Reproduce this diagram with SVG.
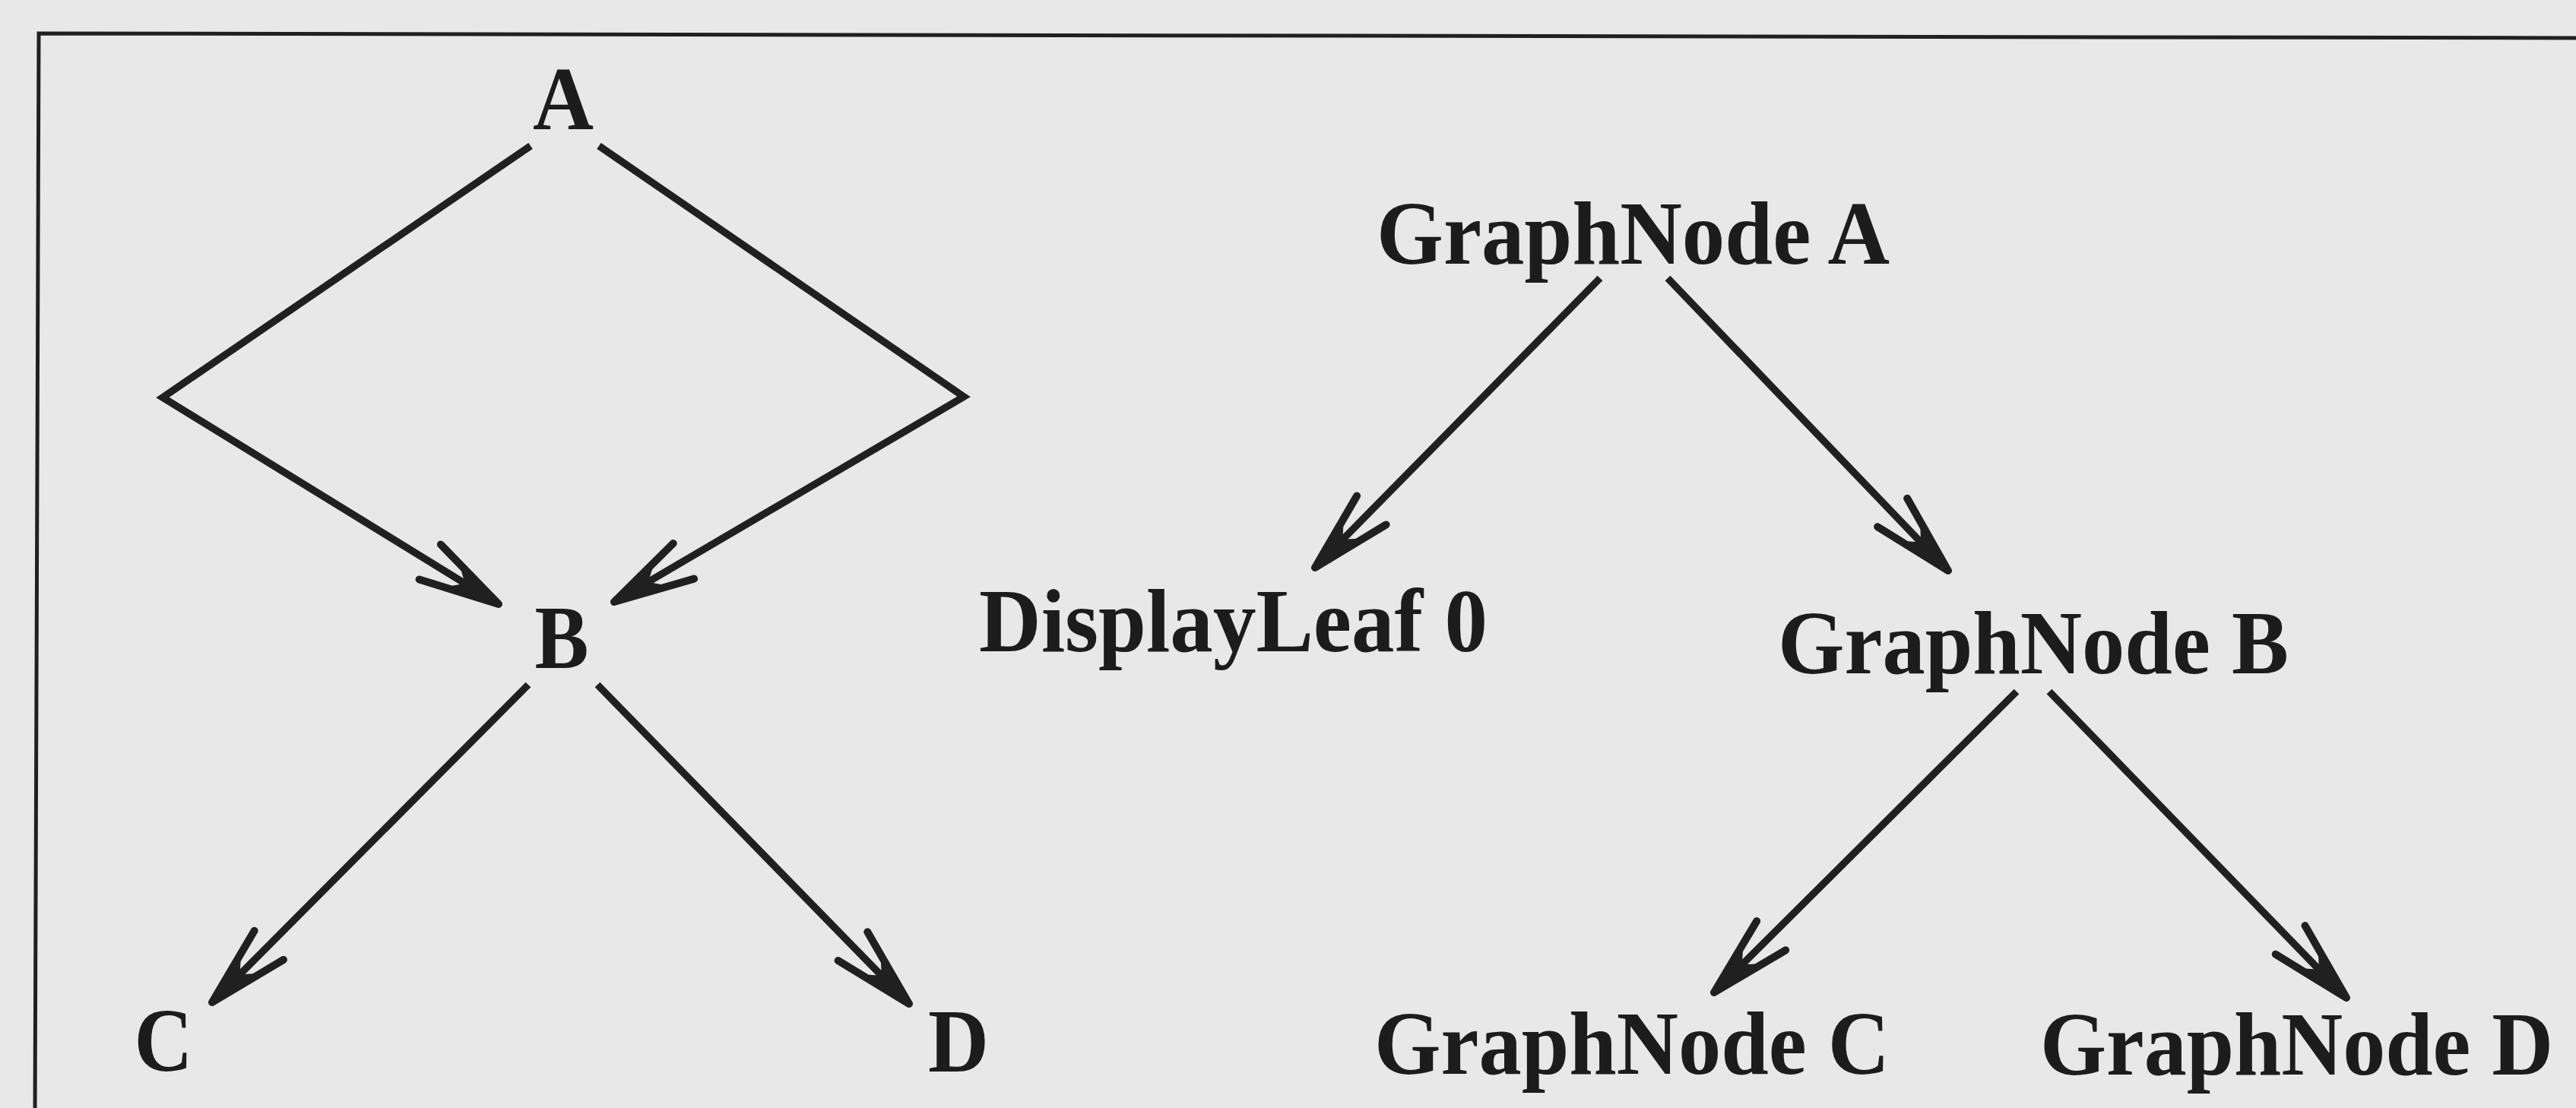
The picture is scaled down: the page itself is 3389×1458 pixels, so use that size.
<svg xmlns="http://www.w3.org/2000/svg" width="3389" height="1458" viewBox="0 0 3389 1458">
<style>
  .lbl { font-family: "Liberation Serif", "Times New Roman", serif; font-weight: bold; font-size: 119px; fill: #1c1c1c; }
  .edge { fill: none; stroke: #202020; stroke-width: 9.5; stroke-linecap: butt; stroke-linejoin: miter; marker-end: url(#arr); }
  .frame { fill: none; stroke: #202020; stroke-width: 5; }
</style>
<defs>
  <marker id="arr" markerUnits="userSpaceOnUse" viewBox="-120 -40 130 80" refX="0" refY="0" markerWidth="130" markerHeight="80" orient="auto" overflow="visible">
    <path d="M-106,-27 L0,0 L-106,27" fill="none" stroke="#202020" stroke-width="10" stroke-linecap="round" stroke-linejoin="round"/>
    <path d="M0,0 L-72,-18 L-52,0 L-72,18 Z" fill="#202020"/>
  </marker>
</defs>
<rect x="0" y="0" width="3389" height="1458" fill="#e8e8e8"/>
<polyline class="frame" points="46,1470 51,44 3400,50"/>

<g id="connectors">
  <polyline class="edge" points="698,192 214,523 656,795"/>
  <polyline class="edge" points="788,192 1268,522 808,792"/>
  <line class="edge" x1="695" y1="901" x2="279" y2="1319"/>
  <line class="edge" x1="786" y1="901" x2="1196" y2="1321"/>
  <line class="edge" x1="2105" y1="366" x2="1730" y2="747"/>
  <line class="edge" x1="2194" y1="366" x2="2563" y2="751"/>
  <line class="edge" x1="2653" y1="910" x2="2255" y2="1306"/>
  <line class="edge" x1="2696" y1="910" x2="3087" y2="1313"/>
</g>

<g id="node-A"><text class="lbl" x="741" y="170" text-anchor="middle" textLength="80" lengthAdjust="spacingAndGlyphs">A</text></g>
<g id="node-B"><text class="lbl" x="739" y="879" text-anchor="middle" textLength="71" lengthAdjust="spacingAndGlyphs">B</text></g>
<g id="node-C"><text class="lbl" x="215" y="1409" text-anchor="middle" textLength="77" lengthAdjust="spacingAndGlyphs">C</text></g>
<g id="node-D"><text class="lbl" x="1261" y="1410" text-anchor="middle" textLength="80" lengthAdjust="spacingAndGlyphs">D</text></g>

<g id="graphnode-A"><text class="lbl" x="1811" y="347" textLength="675" lengthAdjust="spacingAndGlyphs">GraphNode A</text></g>
<g id="displayleaf-0"><text class="lbl" x="1288" y="857" textLength="669" lengthAdjust="spacingAndGlyphs">DisplayLeaf 0</text></g>
<g id="graphnode-B"><text class="lbl" x="2339" y="886" textLength="672" lengthAdjust="spacingAndGlyphs">GraphNode B</text></g>
<g id="graphnode-C"><text class="lbl" x="1808" y="1413" textLength="678" lengthAdjust="spacingAndGlyphs">GraphNode C</text></g>
<g id="graphnode-D"><text class="lbl" x="2684" y="1414" textLength="675" lengthAdjust="spacingAndGlyphs">GraphNode D</text></g>
</svg>
